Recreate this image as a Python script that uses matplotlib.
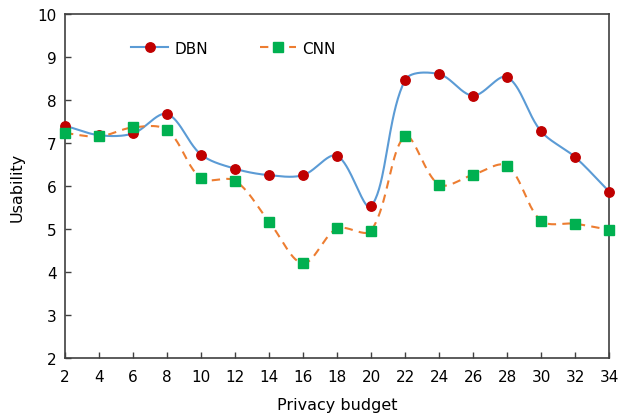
import numpy as np
import matplotlib
matplotlib.use("Agg")
import matplotlib.pyplot as plt
from matplotlib.lines import Line2D

budget = [2, 4, 6, 8, 10, 12, 14, 16, 18, 20, 22, 24, 26, 28, 30, 32, 34]
dbn = [7.40, 7.18, 7.22, 7.67, 6.73, 6.40, 6.25, 6.25, 6.70, 5.53, 8.46, 8.60, 8.10, 8.53, 7.27, 6.67, 5.87]
cnn = [7.23, 7.15, 7.36, 7.30, 6.18, 6.12, 5.17, 4.20, 5.01, 4.96, 7.15, 6.03, 6.26, 6.47, 5.19, 5.12, 4.98]


def smooth(ax, xs, ys, n=40):
    # excel-like smoothed line, done in pixel space so the bends look right
    p = ax.transData.transform(np.column_stack([xs, ys]))
    p = np.vstack([p[0], p, p[-1]])
    out = []
    t = np.linspace(0, 1, n)[:, None]
    for i in range(1, len(p) - 2):
        p0, p1, p2, p3 = p[i - 1], p[i], p[i + 1], p[i + 2]
        d01 = np.hypot(*(p1 - p0)); d12 = np.hypot(*(p2 - p1)); d23 = np.hypot(*(p3 - p2))
        f1 = d12 / (d01 + d12) if d01 + d12 > 0 else 0.5
        f2 = d12 / (d12 + d23) if d12 + d23 > 0 else 0.5
        c1 = p1 + (p2 - p0) * f1 / 3
        c2 = p2 - (p3 - p1) * f2 / 3
        seg = (1 - t) ** 3 * p1 + 3 * (1 - t) ** 2 * t * c1 + 3 * (1 - t) * t ** 2 * c2 + t ** 3 * p2
        out.append(seg)
    out = ax.transData.inverted().transform(np.vstack(out))
    return out[:, 0], out[:, 1]


fig = plt.figure(figsize=(6.19, 4.14), dpi=100)
ax = fig.add_axes([0.105, 0.133, 0.879, 0.831])
ax.set_xlim(2, 34)
ax.set_ylim(2, 10)

sx, sy = smooth(ax, budget, dbn)
ax.plot(sx, sy, color='#5B9BD5', lw=1.5, zorder=2)
ax.plot(budget, dbn, 'o', color='#C00000', ms=6.8, mec='#C00000', zorder=3, clip_on=False)

sx, sy = smooth(ax, budget, cnn)
ax.plot(sx, sy, color='#ED7D31', lw=1.5, ls=(0, (4, 3)), zorder=4)
ax.plot(budget, cnn, 's', color='#00B050', ms=6.5, mec='#00B050', zorder=5, clip_on=False)

ax.set_xticks(budget)
ax.set_yticks(range(2, 11))
ax.tick_params(labelsize=11, length=4, width=1, color='#404040', direction='in')
ax.tick_params(axis='x', pad=8)
ax.tick_params(axis='y', pad=6)
for s in ax.spines.values():
    s.set_color('#404040')
    s.set_linewidth(1.2)

ax.set_xlabel('Privacy budget', fontsize=11.5, labelpad=9)
ax.set_ylabel('Usability', fontsize=11.5, labelpad=9)

handles = [
    Line2D([], [], color='#5B9BD5', lw=1.5, marker='o', ms=6.8, mfc='#C00000', mec='#C00000'),
    Line2D([], [], color='#ED7D31', lw=1.5, ls=(0, (4, 3)), marker='s', ms=6.5, mfc='#00B050', mec='#00B050'),
]
ax.legend(handles, ['DBN', 'CNN'], ncol=2, frameon=False, fontsize=11,
          loc='center', bbox_to_anchor=(0.31, 0.9), columnspacing=3.4,
          handlelength=2.4, handletextpad=0.4)

plt.savefig('out.png', dpi=100)
